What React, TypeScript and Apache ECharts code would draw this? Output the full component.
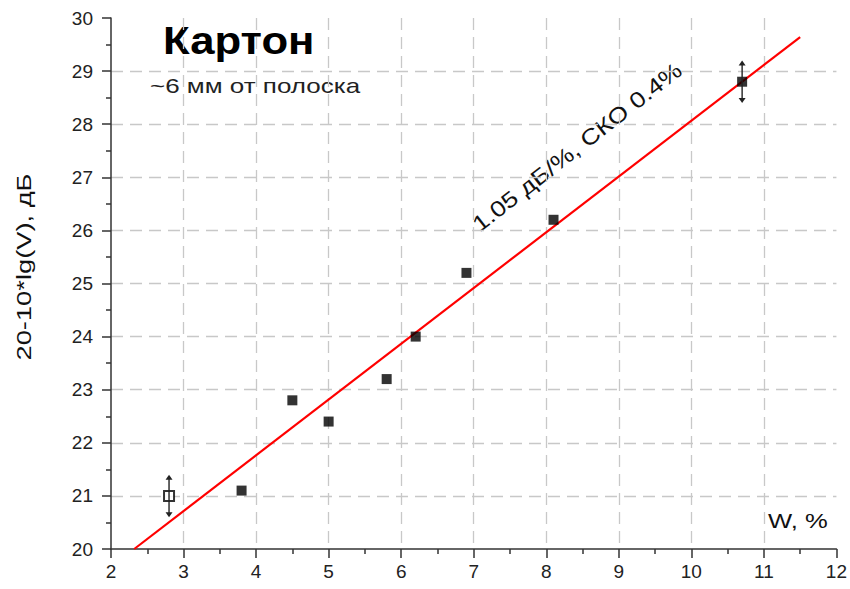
import React, { useEffect, useRef } from "react";
import * as echarts from "echarts";

// Measured points: moisture W (%) vs. 20-10*lg(V) (dB)
const wValues = [2.8, 3.8, 4.5, 5.0, 5.8, 6.2, 6.9, 8.1, 10.7];
const dbValues = [21.0, 21.1, 22.8, 22.4, 23.2, 24.0, 25.2, 26.2, 28.8];

// Points carrying error bars: [W, dB, half-width]
const errorBars = [
  [2.8, 21.0, 0.4],
  [10.7, 28.8, 0.4],
];

// Linear fit end points
const fitW = [2.32, 11.5];
const fitDb = [20.0, 29.64];

const xTicks = { min: 2, max: 12, interval: 1 };
const yTicks = { min: 20, max: 30, interval: 1 };

const FONT = "'Liberation Sans', Arial, sans-serif";

export default function App() {
  const ref = useRef<HTMLDivElement>(null);

  useEffect(() => {
    if (!ref.current) return;
    const chart = echarts.init(ref.current, undefined, { renderer: "svg" });

    const axisCommon = {
      axisLine: { show: true, onZero: false, lineStyle: { color: "#333", width: 1.5 } },
      axisTick: { show: true, inside: false, length: 9, lineStyle: { color: "#333", width: 1.5 } },
      minorTick: { show: true, splitNumber: 2, length: 5, lineStyle: { color: "#333", width: 1.5 } },
      splitLine: {
        show: true,
        showMinLine: false,
        showMaxLine: false,
        lineStyle: { color: "#c8c8c8", type: [12, 7], width: 1.3 },
      },
      axisLabel: { color: "#222", fontSize: 19, fontFamily: FONT },
    };

    const scatterData = wValues.map((w, i) => {
      const hollow = i === 0;
      return {
        value: [w, dbValues[i]],
        itemStyle: hollow
          ? { color: "#fff", borderColor: "#000", borderWidth: 2 }
          : { color: "#000" },
      };
    });

    // Text that reads slightly wide, stretched along its direction
    const label = (
      text: string,
      x: number,
      y: number,
      size: number,
      stretch: number,
      opts: any = {}
    ) => ({
      type: "text",
      x,
      y,
      rotation: opts.rotation || 0,
      scaleX: stretch,
      style: {
        text,
        font: `${opts.bold ? "bold " : ""}${size}px ${FONT}`,
        fill: opts.fill || "#111",
        align: opts.align || "left",
        verticalAlign: "middle",
      },
    });

    chart.setOption({
      animation: false,
      backgroundColor: "#fff",
      grid: { left: 111, right: 12, top: 18, bottom: 40, containLabel: false },
      xAxis: {
        type: "value",
        ...xTicks,
        ...axisCommon,
        axisLabel: { ...axisCommon.axisLabel, margin: 13 },
      },
      yAxis: {
        type: "value",
        ...yTicks,
        ...axisCommon,
        axisLabel: { ...axisCommon.axisLabel, margin: 18 },
      },
      series: [
        {
          type: "line",
          data: fitW.map((w, i) => [w, fitDb[i]]),
          showSymbol: false,
          symbol: "none",
          lineStyle: { color: "#ff0000", width: 2.2 },
          z: 2,
        },
        {
          type: "scatter",
          data: scatterData,
          symbol: "rect",
          symbolSize: 10,
          z: 3,
        },
        {
          type: "custom",
          data: errorBars,
          z: 4,
          renderItem: (params: any, api: any) => {
            const x = api.value(0);
            const y = api.value(1);
            const e = api.value(2);
            const top = api.coord([x, y + e]);
            const bot = api.coord([x, y - e]);
            const a = 3.5;
            const h = 5;
            const color = "#222";
            return {
              type: "group",
              children: [
                {
                  type: "line",
                  shape: { x1: top[0], y1: top[1] + 2, x2: bot[0], y2: bot[1] - 2 },
                  style: { stroke: color, lineWidth: 1.4 },
                },
                {
                  type: "polygon",
                  shape: { points: [[top[0], top[1]], [top[0] - a, top[1] + h], [top[0] + a, top[1] + h]] },
                  style: { fill: color },
                },
                {
                  type: "polygon",
                  shape: { points: [[bot[0], bot[1]], [bot[0] - a, bot[1] - h], [bot[0] + a, bot[1] - h]] },
                  style: { fill: color },
                },
              ],
            };
          },
        },
      ],
      graphic: [
        label("Картон", 163, 41, 38, 1.15, { bold: true, fill: "#000" }),
        label("~6 мм от полоска", 150, 86, 20, 1.3, { fill: "#222" }),
        label("1.05 дБ/%, СКО 0.4%", 577, 147, 22, 1.2, {
          align: "center",
          rotation: (38 * Math.PI) / 180,
        }),
        label("20-10*lg(V), дБ", 24, 267, 21, 1.3, {
          align: "center",
          rotation: Math.PI / 2,
        }),
        label("W, %", 768, 521, 21, 1.22),
      ],
    });

    return () => chart.dispose();
  }, []);

  return (
    <div
      ref={ref}
      style={{ position: "fixed", left: 0, top: 0, width: 850, height: 589 }}
    />
  );
}
